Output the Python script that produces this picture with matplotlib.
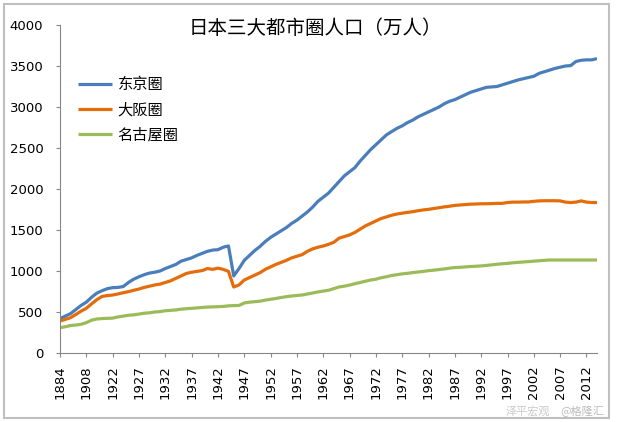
import matplotlib
matplotlib.use('Agg')
import matplotlib.pyplot as plt
from matplotlib.patches import Rectangle

years = ['1884', '1888', '1893', '1898', '1903', '1908', '1913', '1918', '1920', '1921',
         '1922', '1923', '1924', '1925', '1926', '1927', '1928', '1929', '1930', '1931',
         '1932', '1933', '1934', '1935', '1936', '1937', '1938', '1939', '1940', '1941',
         '1942', '1943', '1944', '1945', '1946', '1947', '1948', '1949', '1950', '1951',
         '1952', '1953', '1954', '1955', '1956', '1957', '1958', '1959', '1960', '1961',
         '1962', '1963', '1964', '1965', '1966', '1967', '1968', '1969', '1970', '1971',
         '1972', '1973', '1974', '1975', '1976', '1977', '1978', '1979', '1980', '1981',
         '1982', '1983', '1984', '1985', '1986', '1987', '1988', '1989', '1990', '1991',
         '1992', '1993', '1994', '1995', '1996', '1997', '1998', '1999', '2000', '2001',
         '2002', '2003', '2004', '2005', '2006', '2007', '2008', '2009', '2010', '2011',
         '2012', '2013', '2014']

tokyo = [420, 450, 480, 530, 580, 620, 680, 730, 760, 785,
         797, 800, 810, 860, 900, 930, 955, 975, 985, 1000,
         1030, 1055, 1080, 1120, 1140, 1160, 1190, 1215, 1240, 1255,
         1260, 1290, 1305, 940, 1030, 1130, 1190, 1250, 1300, 1360,
         1410, 1450, 1490, 1530, 1580, 1620, 1670, 1720, 1780, 1850,
         1900, 1950, 2020, 2090, 2160, 2210, 2260, 2340, 2410, 2480,
         2540, 2600, 2660, 2700, 2740, 2770, 2810, 2840, 2880, 2910,
         2940, 2970, 3000, 3040, 3070, 3090, 3120, 3150, 3180, 3200,
         3220, 3240, 3245, 3250, 3270, 3290, 3310, 3330, 3345, 3360,
         3375, 3410, 3430, 3450, 3470, 3485, 3500, 3505, 3555, 3570,
         3575, 3575, 3590]

osaka = [390, 410, 430, 470, 510, 545, 600, 650, 690, 700,
         707, 720, 735, 748, 765, 780, 800, 815, 830, 840,
         860, 880, 910, 940, 970, 985, 995, 1005, 1030, 1020,
         1035, 1020, 995, 805, 830, 890, 920, 950, 980, 1020,
         1050, 1080, 1105, 1130, 1160, 1180, 1200, 1240, 1270, 1290,
         1305, 1325, 1350, 1400, 1420, 1440, 1470, 1510, 1550, 1580,
         1610, 1640, 1660, 1680, 1695, 1705, 1715, 1723, 1735, 1745,
         1752, 1762, 1772, 1782, 1790, 1800, 1805, 1810, 1815, 1817,
         1820, 1820, 1822, 1825, 1825, 1835, 1840, 1840, 1842, 1842,
         1850, 1855, 1857, 1857, 1857, 1855, 1840, 1835, 1840, 1855,
         1840, 1835, 1835]

nagoya = [309, 320, 335, 341, 350, 370, 400, 415, 420, 423,
          425, 440, 450, 460, 465, 475, 485, 490, 500, 505,
          515, 520, 525, 535, 540, 545, 550, 555, 560, 562,
          565, 568, 575, 578, 580, 610, 620, 626, 632, 645,
          655, 665, 677, 687, 695, 702, 707, 720, 732, 745,
          755, 765, 785, 805, 815, 828, 845, 860, 875, 890,
          900, 918, 930, 945, 955, 965, 972, 980, 988, 995,
          1004, 1010, 1018, 1025, 1035, 1042, 1045, 1050, 1055, 1058,
          1062, 1068, 1075, 1082, 1088, 1093, 1100, 1105, 1110, 1115,
          1120, 1125, 1130, 1134, 1134, 1134, 1134, 1134, 1134, 1134,
          1134, 1134, 1134]

series_names = ['东京圈', '大阪圈', '名古屋圈']
series_colors = ['#4A7EBB', '#E46C0A', '#9BBB59']
title = '日本三大都市圈人口（万人）'

CJK = ['Noto Sans CJK SC', 'DejaVu Sans']

W, H = 617, 422
fig = plt.figure(figsize=(W / 100, H / 100), dpi=100)
fig.patch.set_facecolor('white')

ax = fig.add_axes([60 / W, 1 - 353 / H, (597 - 60) / W, (353 - 25) / H])
x = list(range(len(years)))
for vals, name, col in zip([tokyo, osaka, nagoya], series_names, series_colors):
    ax.plot(x, vals, color=col, lw=2.3, label=name, solid_capstyle='butt',
            solid_joinstyle='round')

ax.set_xlim(0, len(years) - 1)
ax.set_ylim(0, 4000)
ax.set_yticks(range(0, 4001, 500))
ax.set_yticklabels([str(v) for v in range(0, 4001, 500)], fontsize=9.5)
ax.set_xticks(x[::5])
ax.set_xticklabels(years[::5], rotation=90, fontsize=9.5)

for s in ['top', 'right']:
    ax.spines[s].set_visible(False)
for s in ['left', 'bottom']:
    ax.spines[s].set_color('#868686')
    ax.spines[s].set_linewidth(0.8)
ax.tick_params(axis='y', direction='out', length=3, width=0.8, color='#868686', pad=9)
ax.tick_params(axis='x', direction='out', length=3, width=0.8, color='#868686', pad=6)

leg = ax.legend(loc='upper left', bbox_to_anchor=(78 / W, 1 - 76 / H),
                bbox_transform=fig.transFigure, frameon=False,
                prop={'family': CJK, 'size': 11}, handlelength=2.2,
                handletextpad=0.4, labelspacing=0.55, borderpad=0, borderaxespad=0)

fig.text(315 / W, 1 - 29 / H, title, ha='center', va='center', fontsize=14,
         family=CJK)

# watermark (kept clear of the tick labels)
fig.text(528 / W, 1 - 411 / H, '泽平宏观', ha='center', va='center', fontsize=8,
         family=CJK, color='#BBBBBB', alpha=0.8)
fig.text(582 / W, 1 - 411 / H, '@格隆汇', ha='center', va='center', fontsize=8,
         family=CJK, color='#AAAAAA', alpha=0.8)

fig.patches.append(Rectangle((4 / W, 4 / H), (609 - 4) / W, (418 - 4) / H,
                             transform=fig.transFigure, fill=False,
                             edgecolor='#BFBFBF', lw=1.5))

fig.savefig('out.png', dpi=100, facecolor='white')
